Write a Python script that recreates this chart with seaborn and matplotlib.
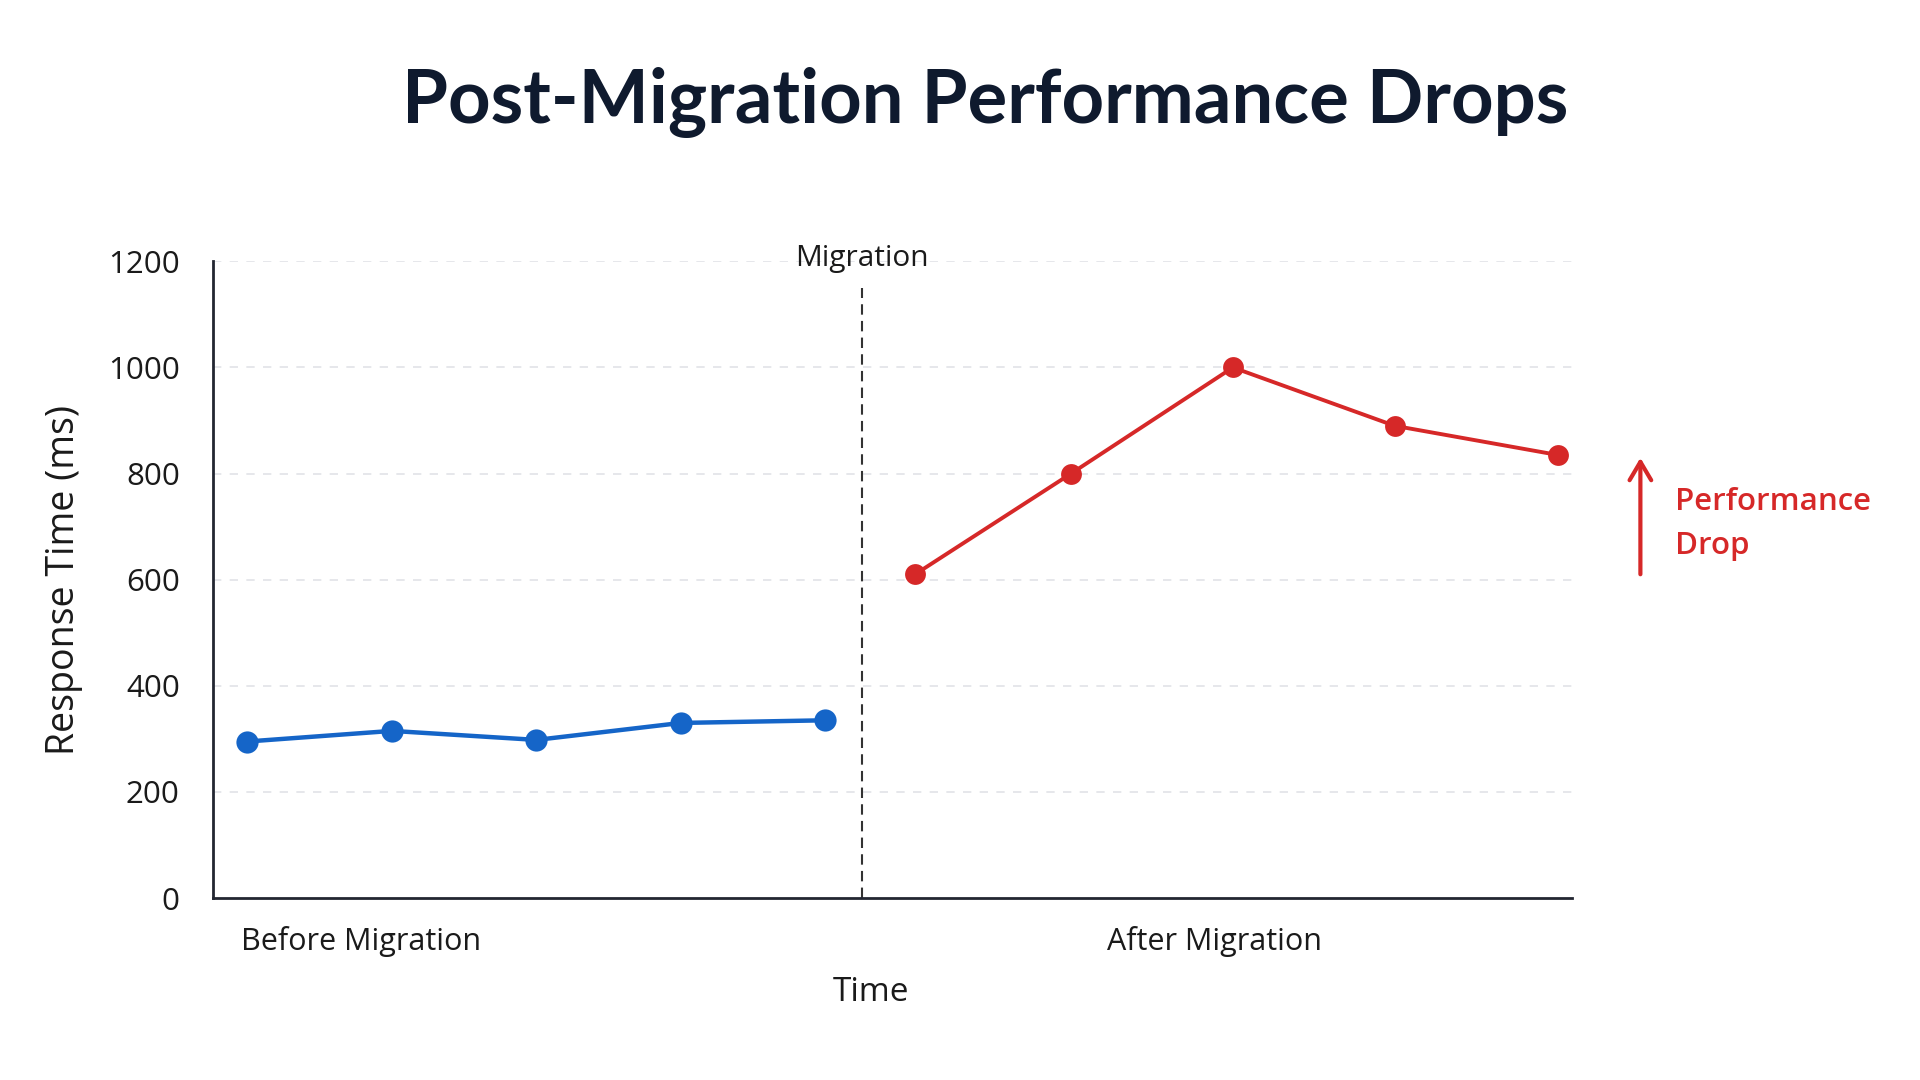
#!/usr/bin/env python3
# Post-migration response time chart

import pandas as pd
import matplotlib.pyplot as plt
import seaborn as sns

# data
before_x = [0.0, 1.0, 2.0, 3.0, 4.0]
before_ms = [295, 315, 298, 330, 335]
after_x = [4.62, 5.70, 6.82, 7.94, 9.07]
after_ms = [610, 800, 1000, 890, 835]
migration_x = 4.25
phase_ticks = [0.79, 6.69]
phase_labels = ['Before Migration', 'After Migration']
y_ticks = [0, 200, 400, 600, 800, 1000, 1200]

df = pd.DataFrame({
    'x': before_x + after_x,
    'ms': before_ms + after_ms,
    'phase': ['before'] * len(before_x) + ['after'] * len(after_x),
})

sns.set_theme(style='white')
plt.rcParams['font.family'] = ['Open Sans', 'DejaVu Sans']

blue = '#1565c8'
red = '#d62828'
ink = '#1a1a1a'

fig = plt.figure(figsize=(19.2, 10.8), dpi=100)
ax = fig.add_axes([0.111, 0.1685, 0.708, 0.5895])

sns.lineplot(data=df[df.phase == 'before'], x='x', y='ms', color=blue,
             marker='o', markersize=16, markeredgewidth=0, linewidth=3.2, ax=ax)
sns.lineplot(data=df[df.phase == 'after'], x='x', y='ms', color=red,
             marker='o', markersize=15, markeredgewidth=0, linewidth=2.8, ax=ax)

ax.set_xlim(-0.237, 9.17)
ax.set_ylim(0, 1200)
ax.set_yticks(y_ticks)
ax.set_yticklabels([str(v) for v in y_ticks], fontsize=22.5, color=ink)
ax.set_xticks(phase_ticks)
ax.set_xticklabels(phase_labels, fontsize=22, color=ink)
ax.tick_params(axis='both', length=0)
ax.tick_params(axis='x', pad=20)
ax.tick_params(axis='y', pad=24)

for v in y_ticks[1:]:
    ax.axhline(v, color='#e2e3e7', linestyle=(0, (5, 5)), linewidth=1.2, zorder=0)

for s in ['top', 'right']:
    ax.spines[s].set_visible(False)
for s in ['left', 'bottom']:
    ax.spines[s].set_color('#222631')
    ax.spines[s].set_linewidth(2)

# migration marker
ax.plot([migration_x, migration_x], [0, 1150], color='#333333',
        linestyle=(0, (5, 3)), linewidth=1.5, zorder=1)
ax.text(migration_x, 1178, 'Migration', ha='center', va='bottom',
        fontsize=21.5, color=ink)

ax.set_xlabel('Time', fontsize=24, color=ink)
ax.xaxis.set_label_coords(0.484, -0.123)
ax.set_ylabel('Response Time (ms)', fontsize=27, color=ink, labelpad=30)
ax.yaxis.set_label_coords(-0.096, 0.5)

# performance drop annotation
ax.annotate('', xy=(9.64, 835), xytext=(9.64, 605),
            arrowprops=dict(arrowstyle='->,head_width=0.65,head_length=1.1',
                            color=red, linewidth=3.0),
            annotation_clip=False)
ax.text(9.88, 705, 'Performance\nDrop', ha='left', va='center', fontsize=22.5,
        color=red, fontweight='semibold', linespacing=1.6, clip_on=False)

fig.text(0.513, 0.905, 'Post-Migration Performance Drops', ha='center',
         va='center', fontsize=53.5, fontweight='bold', color='#0f1a2e',
         family=['Lato', 'DejaVu Sans'])

fig.savefig('out.png', dpi=100, facecolor='white')
